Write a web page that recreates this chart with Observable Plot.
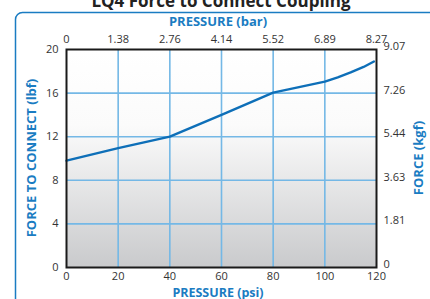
<!DOCTYPE html>
<html><head><meta charset="utf-8">
<script src="https://cdn.jsdelivr.net/npm/d3@7"></script>
<script src="https://cdn.jsdelivr.net/npm/@observablehq/plot@0.6"></script>
<style>
html,body{margin:0;padding:0;background:#fff;}
#chart{position:relative;width:430px;height:299px;overflow:hidden;}
</style></head>
<body><div id="chart"></div>
<script>
const title = "LQ4 Force to Connect Coupling";
const psi = [0, 20, 40, 60, 80, 90, 100, 105, 110, 115, 119];
const lbf = [9.8, 10.95, 12.0, 14.0, 16.05, 16.55, 17.05, 17.45, 17.9, 18.4, 18.9];
const psiTicks = [0, 20, 40, 60, 80, 100, 120];
const barLabels = ["0", "1.38", "2.76", "4.14", "5.52", "6.89", "8.27"];
const lbfTicks = [0, 4, 8, 12, 16, 20];
const kgfLabels = ["0", "1.81", "3.63", "5.44", "7.26", "9.07"];
const gridX = [20, 40, 60, 80, 100];
const gridY = [4, 8, 12, 16];

const blue = "#1a7cc2";
const gridColor = "#74b8e6";
const data = psi.map((p, i) => ({psi: p, lbf: lbf[i]}));

const svg = Plot.plot({
  width: 430, height: 299,
  marginLeft: 66, marginRight: 54, marginTop: 49, marginBottom: 32,
  style: {fontFamily: "'Open Sans', sans-serif", fontSize: "11px", background: "transparent", color: "#333"},
  x: {domain: [0, 120]},
  y: {domain: [0, 20]},
  marks: [
    Plot.frame({fill: "url(#bggrad)", stroke: "none"}),
    Plot.ruleX(gridX, {stroke: gridColor, strokeWidth: 1.6}),
    Plot.ruleY(gridY, {stroke: gridColor, strokeWidth: 1.6}),
    Plot.line(data, {x: "psi", y: "lbf", stroke: "#0e6fb8", strokeWidth: 2.4}),
    Plot.frame({stroke: "#1a1a1a", strokeWidth: 2}),
    Plot.axisX(psiTicks, {anchor: "bottom", tickSize: 0, tickPadding: 5, label: null, fill: "#333"}),
    Plot.axisX(psiTicks, {anchor: "top", tickSize: 0, tickPadding: 7, label: null, fill: "#333",
      tickFormat: (d) => barLabels[psiTicks.indexOf(d)]}),
    Plot.axisY(lbfTicks, {anchor: "left", tickSize: 0, tickPadding: 8, label: null, fill: "#333"}),
    Plot.axisY(lbfTicks, {anchor: "right", tickSize: 0, tickPadding: 7, label: null, fill: "#333", dy: -3,
      tickFormat: (d) => kgfLabels[lbfTicks.indexOf(d)]})
  ]
});

const s = d3.select(svg);
const defs = s.insert("defs", ":first-child");
const g = defs.append("linearGradient").attr("id", "bggrad").attr("x1", 0).attr("y1", 0).attr("x2", 0).attr("y2", 1);
g.append("stop").attr("offset", "0%").attr("stop-color", "#ffffff");
g.append("stop").attr("offset", "35%").attr("stop-color", "#fbfbfb");
g.append("stop").attr("offset", "100%").attr("stop-color", "#c9cacc");

// outer rounded border
s.insert("rect", "defs + *").attr("x", 15.5).attr("y", 12.5).attr("width", 440).attr("height", 320)
  .attr("rx", 7).attr("fill", "none").attr("stroke", blue).attr("stroke-width", 1.5);

s.append("text").attr("x", 221).attr("y", 7).attr("text-anchor", "middle")
  .attr("font-size", 17).attr("font-weight", "bold").attr("fill", "#222").text(title);
const lab = (x, y, t, rot, fs) => {
  const e = s.append("text").attr("x", x).attr("y", y).attr("text-anchor", "middle")
    .attr("dominant-baseline", "central").attr("font-size", fs || 13).attr("font-weight", "bold")
    .attr("fill", blue).text(t);
  if (rot) e.attr("transform", `rotate(-90 ${x} ${y})`);
};
lab(218, 21, "PRESSURE (bar)");
lab(218, 292, "PRESSURE (psi)", false, 12.5);
lab(31, 158, "FORCE TO CONNECT (lbf)", true);
lab(418, 158, "FORCE (kgf)", true);

document.getElementById("chart").appendChild(svg);
</script></body></html>
